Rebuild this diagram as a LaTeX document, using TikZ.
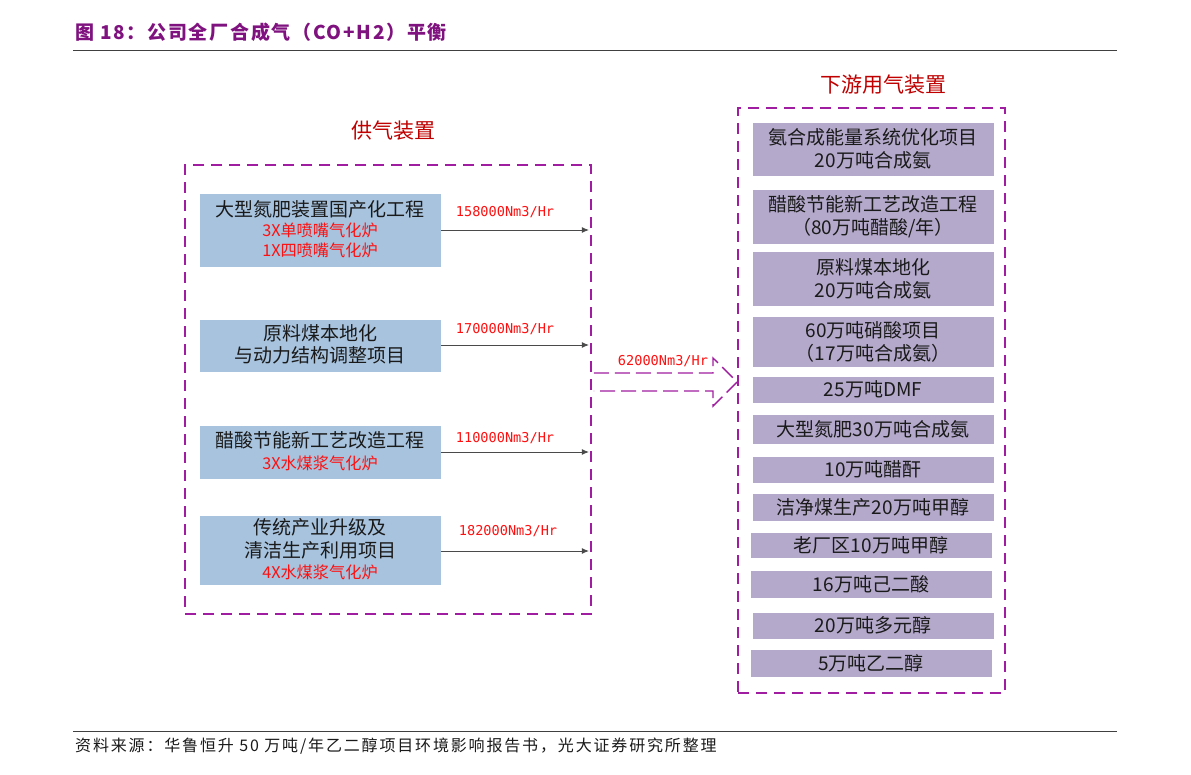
\documentclass[tikz,border=0pt]{standalone}
\usepackage{fontspec}
\usetikzlibrary{arrows.meta}
\setmainfont{Noto Sans CJK SC}
\newfontfamily\mono{DejaVu Sans Mono}
\definecolor{ttl}{HTML}{80127F}
\definecolor{dsh}{HTML}{A01CA0}
\definecolor{lblue}{HTML}{A7C3DE}
\definecolor{lpurp}{HTML}{B4A9CB}
\definecolor{rd}{HTML}{FF1010}
\definecolor{hd}{HTML}{C00000}
\definecolor{arr}{HTML}{4A4A4A}
\definecolor{txt}{HTML}{1A1A1A}
\begin{document}
\begin{tikzpicture}[x=1pt,y=-1pt,
  frame/.style={draw=dsh, line width=1.8pt, dash pattern=on 11pt off 7pt, minimum width=#1, inner sep=0pt},
  lbox/.style={fill=lblue, draw=white, line width=0.6pt, minimum width=242, inner sep=0pt},
  rbox/.style={fill=lpurp, draw=white, line width=0.6pt, minimum width=242, inner sep=0pt, text=txt, align=center, font=\fontsize{19}{23}\selectfont},
  big/.style={text=txt, inner sep=0pt, font=\fontsize{19}{22}\selectfont},
  sub/.style={text=rd, inner sep=0pt, font=\fontsize{16.2}{20}\selectfont},
  flowlbl/.style={text=rd, inner sep=0pt, font=\mono\fontsize{13.6}{14}\selectfont},
  flow/.style={draw=arr, line width=0.9pt, -{Latex[length=7pt,width=6pt]}, shorten >=3pt},
  head/.style={text=hd, inner sep=0pt, font=\fontsize{21}{22}\selectfont},
]
\useasboundingbox (0,0) rectangle (1191,774);
\fill[white] (0,0) rectangle (1191,774);

% title and rules
\node[anchor=west, text=ttl, inner sep=0pt, font=\bfseries\fontsize{19}{20}\selectfont\addfontfeature{LetterSpace=9}] (title) at (75,32) {图 18：公司全厂合成气（CO+H2）平衡};
\draw[line width=1pt, black!75] (73,50) -- (1117,50);
\draw[line width=1pt, black!75] (73,731) -- (1117,731);
\node[anchor=west, text=txt, inner sep=0pt, font=\fontsize{16}{16}\selectfont\addfontfeature{LetterSpace=11.5}] (foot) at (75,746) {资料来源：华鲁恒升 50 万吨/年乙二醇项目环境影响报告书，光大证券研究所整理};

% frames
\node[frame=406, minimum height=449] (LF) at (388,389.5) {};
\node[frame=267, minimum height=585] (RF) at (871.5,400.5) {};
\node[head] (LH) at (393,131) {供气装置};
\node[head] (RH) at (883,85) {下游用气装置};

% left boxes
\node[lbox, minimum height=74] (L1) at (320,230) {};
\node[lbox, minimum height=53] (L2) at (320,345.5) {};
\node[lbox, minimum height=54] (L3) at (320,452) {};
\node[lbox, minimum height=70] (L4) at (320,550) {};

\node[big] (L1a) at (320,209) {大型氮肥装置国产化工程};
\node[sub] (L1b) at (320,230) {3X单喷嘴气化炉};
\node[sub] (L1c) at (320,250) {1X四喷嘴气化炉};
\node[big] (L2a) at (320,333) {原料煤本地化};
\node[big] (L2b) at (320,355) {与动力结构调整项目};
\node[big] (L3a) at (320,440) {醋酸节能新工艺改造工程};
\node[sub] (L3b) at (320,463) {3X水煤浆气化炉};
\node[big] (L4a) at (320,527) {传统产业升级及};
\node[big] (L4b) at (320,550) {清洁生产利用项目};
\node[sub] (L4c) at (320,572) {4X水煤浆气化炉};

% flows
\draw[flow] (L1.east |- 0,230) -- (LF.east |- 0,230);
\draw[flow] (L2.east |- 0,345) -- (LF.east |- 0,345);
\draw[flow] (L3.east |- 0,452) -- (LF.east |- 0,452);
\draw[flow] (L4.east |- 0,551) -- (LF.east |- 0,551);
\node[flowlbl] (F1) at (505,212) {158000Nm3/Hr};
\node[flowlbl] (F2) at (505,329) {170000Nm3/Hr};
\node[flowlbl] (F3) at (505,438) {110000Nm3/Hr};
\node[flowlbl] (F4) at (508,531) {182000Nm3/Hr};

% big dashed arrow
\draw[draw=dsh, line width=1.4pt, dash pattern=on 15pt off 6pt, line join=miter]
  ([xshift=2pt]LF.east |- 0,373) -- (713,373) -- (713,358) -- (RF.west |- 0,382) -- (713,406) -- (713,391) -- ([xshift=2pt]LF.east |- 0,391);
\node[flowlbl] (F5) at (663,361) {62000Nm3/Hr};

% right boxes
\node[rbox, minimum height=54] (R1) at (873,149) {氨合成能量系统优化项目\\20万吨合成氨};
\node[rbox, minimum height=55] (R2) at (873,216.5) {醋酸节能新工艺改造工程\\（80万吨醋酸/年）};
\node[rbox, minimum height=55] (R3) at (873,278.5) {原料煤本地化\\20万吨合成氨};
\node[rbox, minimum height=51] (R4) at (873,341.5) {60万吨硝酸项目\\（17万吨合成氨）};
\node[rbox, minimum height=27] (R5) at (873,389.5) {25万吨DMF};
\node[rbox, minimum height=30] (R6) at (873,429) {大型氮肥30万吨合成氨};
\node[rbox, minimum height=27] (R7) at (873,469.5) {10万吨醋酐};
\node[rbox, minimum height=28] (R8) at (873,507) {洁净煤生产20万吨甲醇};
\node[rbox, minimum height=26] (R9) at (871,545) {老厂区10万吨甲醇};
\node[rbox, minimum height=28] (R10) at (871,584) {16万吨己二酸};
\node[rbox, minimum height=27] (R11) at (873,625.5) {20万吨多元醇};
\node[rbox, minimum height=28] (R12) at (871,663) {5万吨乙二醇};
\end{tikzpicture}
\end{document}
